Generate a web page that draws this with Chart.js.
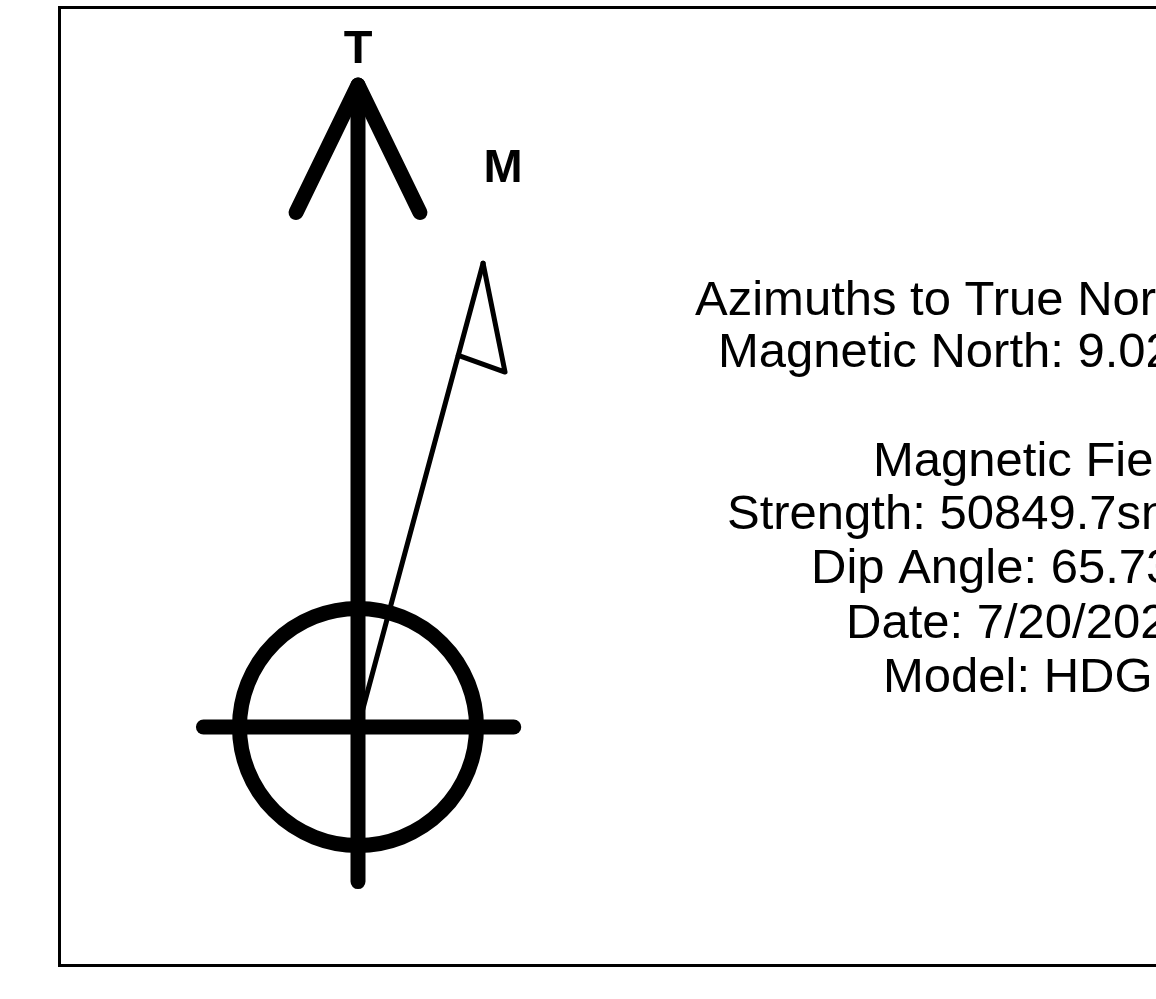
<!DOCTYPE html>
<html>
<head>
<meta charset="utf-8">
<script src="https://cdn.jsdelivr.net/npm/chart.js@4/dist/chart.umd.min.js"></script>
<style>
  html,body{margin:0;padding:0;background:#fff;}
  #wrap{width:1156px;height:999px;}
</style>
</head>
<body>
<div id="wrap"><canvas id="chart"></canvas></div>
<script>
// diagram units: circle radius = 1, origin at circle centre
const trueShaft  = [{x:0,y:5.44},{x:0,y:-1.31}];
const trueHead   = [{x:-0.525,y:4.36},{x:0,y:5.44},{x:0.525,y:4.36}];
const crossBar   = [{x:-1.31,y:0},{x:1.32,y:0}];
const ring       = [{x:0,y:0}];
const magNeedle  = [{x:0,y:0},{x:1.06,y:3.93}];
const magFlag    = [{x:1.06,y:3.93},{x:1.246,y:3.008},{x:0.85,y:3.15}];

const pointLabels = [
  {text:"T", x:0,    y:5.74},
  {text:"M", x:1.23, y:4.73}
];

const infoLines = [
  {text:"Azimuths to True North", left:695, base:315},
  {text:"Magnetic North: 9.02°",  left:718, base:367},
  {text:"Magnetic Field",         left:873, base:476},
  {text:"Strength: 50849.7snT",   left:727, base:529},
  {text:"Dip Angle: 65.73°",      left:811, base:583},
  {text:"Date: 7/20/2024",        left:846, base:638},
  {text:"Model: HDGM",            left:883, base:692}
];

function seg(data, width){
  return {
    data, showLine:true, borderColor:"#000", borderWidth:width,
    borderCapStyle:"round", borderJoinStyle:"round",
    pointRadius:0, pointHoverRadius:0, tension:0, clip:false
  };
}

const decor = {
  id:"decor",
  afterDatasetsDraw(chart){
    const {ctx, scales:{x, y}} = chart;
    ctx.save();
    // frame
    ctx.strokeStyle = "#000";
    ctx.lineWidth = 3;
    ctx.strokeRect(59.5, 7.5, 1200, 958);

    ctx.fillStyle = "#000";
    ctx.textAlign = "center";
    ctx.textBaseline = "middle";
    ctx.font = "bold 47px 'Liberation Sans', Arial, sans-serif";
    pointLabels.forEach(l=>{
      ctx.fillText(l.text, x.getPixelForValue(l.x), y.getPixelForValue(l.y));
    });

    ctx.textAlign = "left";
    ctx.textBaseline = "alphabetic";
    ctx.font = "49px 'Liberation Sans', Arial, sans-serif";
    infoLines.forEach(l=>ctx.fillText(l.text, l.left, l.base));
    ctx.restore();
  }
};

new Chart(document.getElementById("chart"),{
  type:"scatter",
  data:{
    datasets:[
      seg(trueShaft, 15),
      seg(trueHead, 15),
      seg(crossBar, 15),
      {
        data:ring, showLine:false, pointRadius:118.5, pointHoverRadius:118.5,
        pointBorderWidth:15, pointBorderColor:"#000",
        pointBackgroundColor:"rgba(0,0,0,0)", clip:false
      },
      seg(magNeedle, 5),
      seg(magFlag, 5)
    ]
  },
  options:{
    responsive:true,
    maintainAspectRatio:false,
    animation:false,
    events:[],
    layout:{padding:0, autoPadding:false},
    plugins:{legend:{display:false}, tooltip:{enabled:false}},
    scales:{
      x:{type:"linear", display:false, bounds:"data", min:-358/118, max:(1156-358)/118},
      y:{type:"linear", display:false, bounds:"data", min:(727-999)/118, max:727/118}
    }
  },
  plugins:[decor]
});
</script>
</body>
</html>
